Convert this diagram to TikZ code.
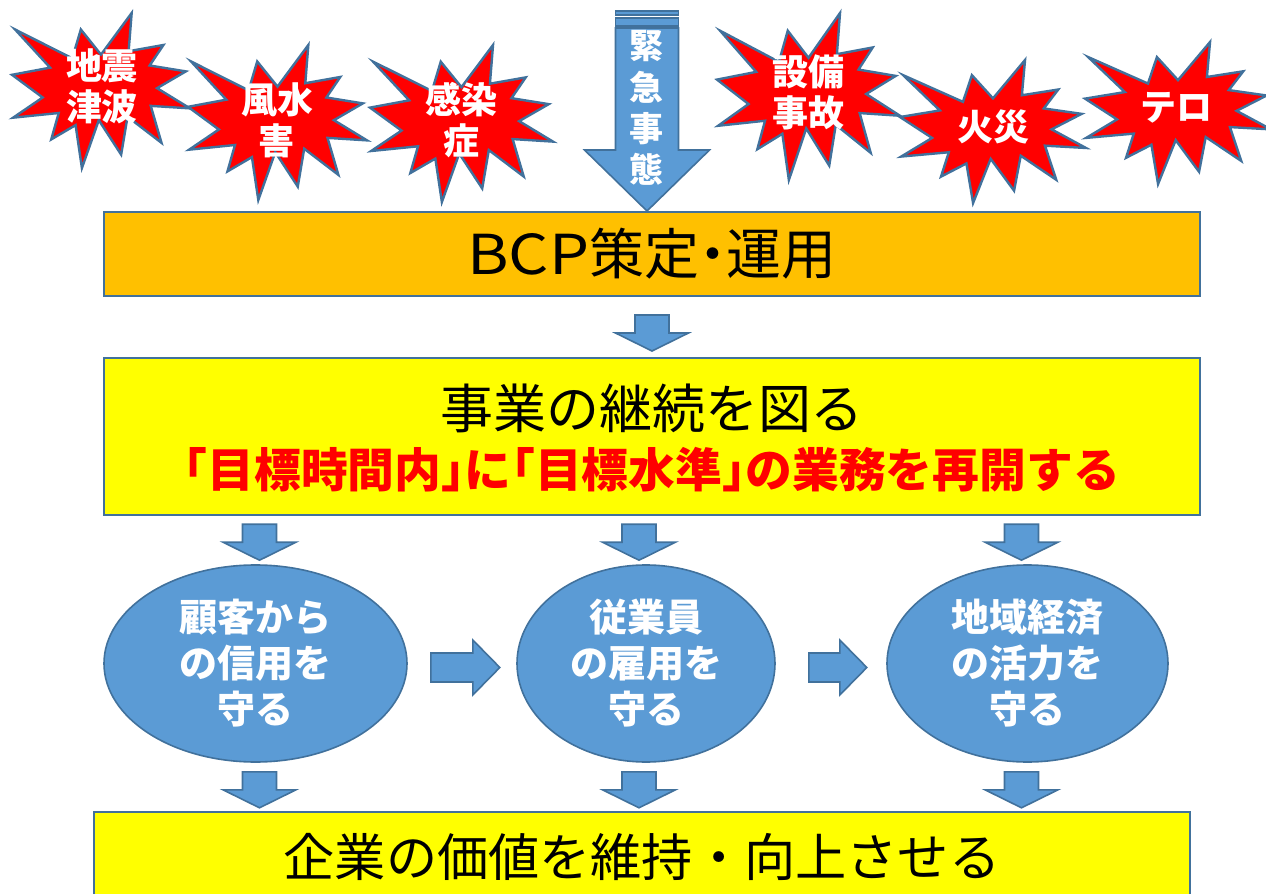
\documentclass[tikz,border=0pt]{standalone}
\usepackage{fontspec}
\newfontfamily\jp{Noto Sans CJK JP}
\newfontfamily\jph{Noto Sans CJK JP}[RawFeature=+halt]
\usetikzlibrary{calc,shapes.geometric}
\definecolor{bordc}{HTML}{41719C}
\definecolor{afill}{HTML}{5B9BD5}
\definecolor{bcpfill}{HTML}{FFC000}
\definecolor{ylw}{HTML}{FFFF00}
\definecolor{rd}{HTML}{FF0000}
\begin{document}
\begin{tikzpicture}[x=0.5pt,y=-0.5pt,
  box/.style={draw=bordc, line width=1pt, inner sep=0pt, anchor=center},
  blk/.style={fill=afill, draw=bordc, line width=0.8pt, line join=miter},
  sealst/.style={fill=rd, draw=bordc, line width=1.2pt, line join=miter},
  wt/.style={text=white, font=\jp\bfseries\fontsize{18}{20.5}\selectfont, align=center, inner sep=0pt},
  ell/.style={ellipse, fill=afill, draw=bordc, line width=0.8pt, inner sep=0pt, text=white, align=center, font=\jp\bfseries\fontsize{19}{23}\selectfont},
  pics/seal/.style={code={
    \path[sealst] (50.00,26.85) -- (67.23,0) -- (65.53,24.65) -- (85.09,20.63) -- (77.32,33.87) -- (97.67,37.67) -- (81.51,48.50) -- (100,61.53) -- (77.95,59.92) -- (84.00,83.77) -- (64.91,66.93) -- (61.33,91.38) -- (48.76,69.14) -- (39.28,100) -- (35.72,72.35) -- (22.05,81.56) -- (26.24,64.52) -- (0.63,67.53) -- (17.23,54.51) -- (0,39.88) -- (21.42,35.26) -- (1.71,10.63) -- (33.85,29.26) -- (38.67,10.63) -- cycle;}},
  pics/darr/.style={code={
    \path[blk] (-17,-18) -- (17,-18) -- (17,0) -- (36.5,0) -- (0,18) -- (-36.5,0) -- (-17,0) -- cycle;}},
  pics/rarr/.style={code={
    \path[blk] (0,-14.5) -- (#1,-14.5) -- (#1,-27.5) -- ({#1+27},0) -- (#1,27.5) -- (#1,14.5) -- (0,14.5) -- cycle;}},
  pics/emarrow/.style={code={
    \path[blk] (-31.5,-183) -- (31.5,-183) -- (31.5,-61) -- (62.5,-61) -- (0,0) -- (-62.5,-61) -- (-31.5,-61) -- cycle;
    \path[blk] (-31.5,-200) rectangle (31.5,-196);
    \path[blk] (-31.5,-193) rectangle (31.5,-185);}}
]
\useasboundingbox (0,0) rectangle (1266,894);
\clip (0,0) rectangle (1266,894);

% starbursts
\pic[shift={(12,13)}, xscale=1.78, yscale=1.55] {seal};
\pic[shift={(188,45)}, xscale=1.79, yscale=1.55] {seal};
\pic[shift={(370,45)}, xscale=1.83, yscale=1.57] {seal};
\pic[shift={(717,13)}, xscale=1.83, yscale=1.67] {seal};
\pic[shift={(900,60)}, xscale=1.86, yscale=1.43] {seal};
\pic[shift={(1085,42)}, xscale=1.86, yscale=1.42] {seal};
\node[wt] (s1) at (102,86) {地震\\津波};
\node[wt] (s2) at (277,120) {風水\\害};
\node[wt] (s3) at (461,120) {感染\\症};
\node[wt] (s4) at (808,92) {設備\\事故};
\node[wt] (s5) at (993,127) {火災};
\node[wt] (s6) at (1176,108) {テロ};

% boxes
\node[box, fill=bcpfill, minimum width=548pt, minimum height=42pt, font=\jph\fontsize{27.5}{30}\selectfont] (bcp) at (652,254) {\scalebox{1.15}[1]{BCP}策定・運用};
\node[box, fill=ylw, minimum width=548pt, minimum height=78.5pt] (goal) at (652,436.5) {};
\node[font=\jp\fontsize{26.5}{30}\selectfont, inner sep=0pt] (g1) at (652,408) {事業の継続を図る};
\node[font=\jph\bfseries\fontsize{23.4}{26}\selectfont, text=rd, inner sep=0pt] (g2) at (652,470) {「目標時間内」に「目標水準」の業務を再開する};
\node[box, fill=ylw, minimum width=548pt, minimum height=45pt, font=\jp\fontsize{25.6}{30}\selectfont] (val) at (642,857) {企業の価値を維持・向上させる};

% ellipses
\node[ell, minimum width=151.5pt, minimum height=98.5pt] (e1) at (255.5,663.5) {顧客から\\の信用を\\守る};
\node[ell, minimum width=129pt, minimum height=98.5pt] (e2) at (646,663.5) {従業員\\の雇用を\\守る};
\node[ell, minimum width=140.5pt, minimum height=98.5pt] (e3) at (1027.5,663.5) {地域経済\\の活力を\\守る};

% emergency arrow
\coordinate (emtip) at ($(bcp.north)+(-5,0)$);
\pic at (emtip) {emarrow};
\node[wt, font=\jp\bfseries\fontsize{17}{20.6}\selectfont] (emt) at (646,108) {緊\\急\\事\\態};

% block arrows
\coordinate (m0) at ($(bcp.south)+(0,36)$);
\coordinate (d1) at ($(e1.north)+(4,-22)$);
\coordinate (d2) at ($(e2.north)+(-7,-22)$);
\coordinate (d3) at ($(e3.north)+(-6,-22)$);
\coordinate (u1) at ($(e1.south)+(4,27)$);
\coordinate (u2) at ($(e2.south)+(-7,27)$);
\coordinate (u3) at ($(e3.south)+(-6,27)$);
\coordinate (r1) at ($(e1.east)+(23,4)$);
\coordinate (r2) at ($(e2.east)+(33,4)$);
\pic at (m0) {darr};
\pic at (d1) {darr};
\pic at (d2) {darr};
\pic at (d3) {darr};
\pic at (u1) {darr};
\pic at (u2) {darr};
\pic at (u3) {darr};
\pic at (r1) {rarr=42};
\pic at (r2) {rarr=31};
\end{tikzpicture}
\end{document}
